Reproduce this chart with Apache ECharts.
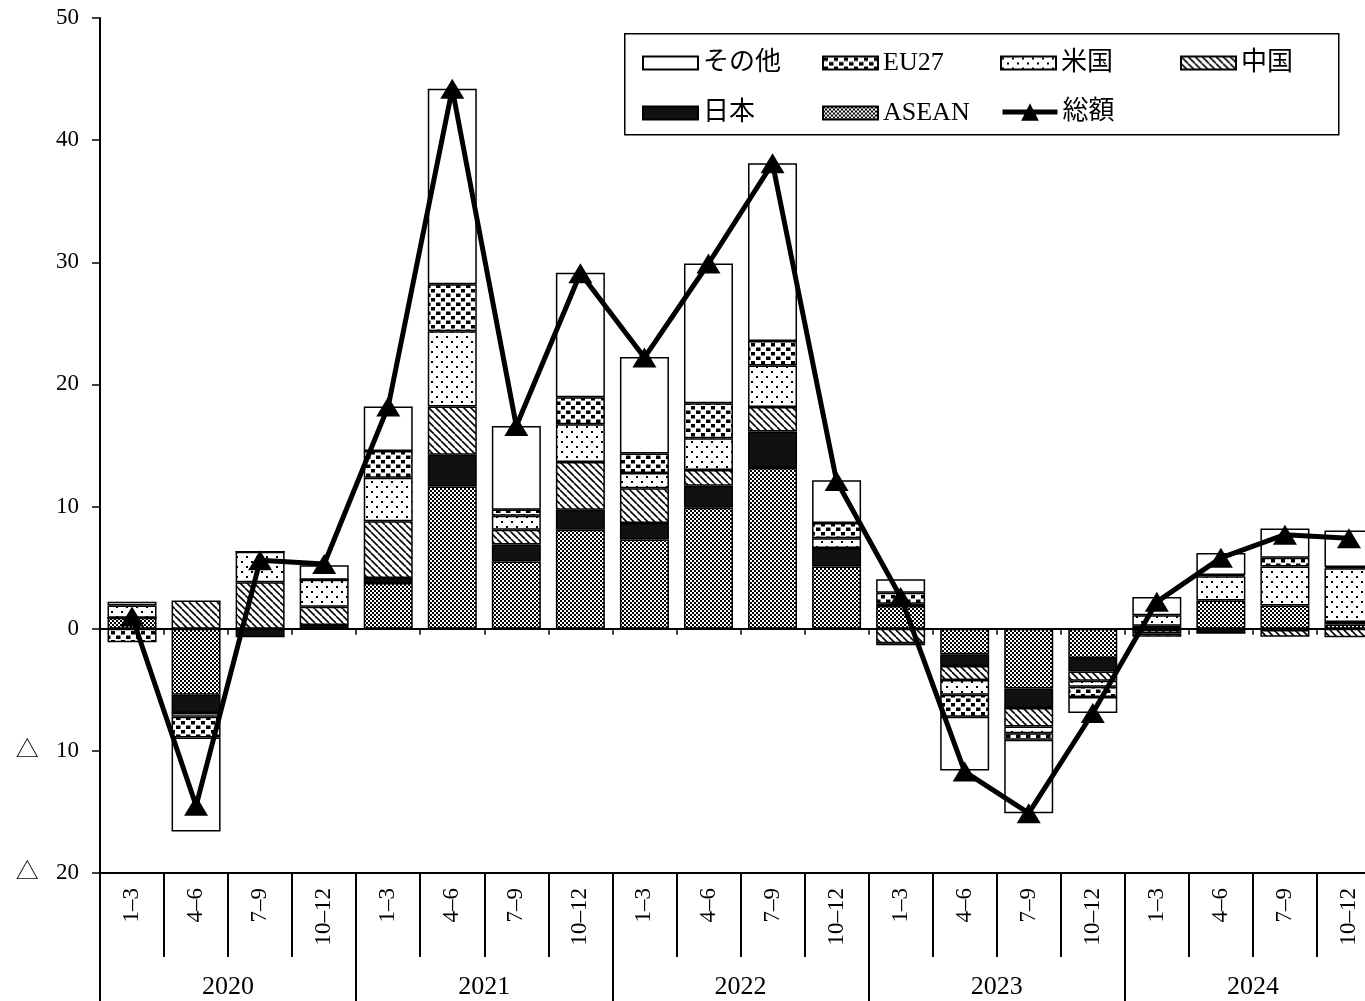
<!DOCTYPE html>
<html>
<head>
<meta charset="utf-8">
<script src="https://cdn.jsdelivr.net/npm/echarts@6/dist/echarts.min.js"></script>
<style>
html,body{margin:0;padding:0;background:#fff;}
#c{width:1365px;height:1001px;}
</style>
</head>
<body>
<div id="c"></div>
<script>
const quarters = ['1–3','4–6','7–9','10–12','1–3','4–6','7–9','10–12','1–3','4–6','7–9','10–12','1–3','4–6','7–9','10–12','1–3','4–6','7–9','10–12'];
const years = ['2020','2021','2022','2023','2024'];

const asean = [0.9, -5.4, 0, 0, 3.75, 11.65, 5.5, 8.1, 7.3, 9.9, 13.15, 5.1, 1.85, -2.1, -4.9, -2.4, 0.25, 2.3, 1.9, 0.35];
const japan = [0, -1.5, -0.7, 0.3, 0.4, 2.6, 1.4, 1.65, 1.35, 1.8, 3.0, 1.5, 0.2, -0.95, -1.6, -1.1, -0.1, -0.35, -0.1, 0.2];
const china = [0, 2.3, 3.8, 1.5, 4.65, 3.95, 1.2, 3.9, 2.85, 1.3, 2.0, 0, -1.2, -1.15, -1.5, -0.75, -0.3, 0, -0.55, -0.7];
const usa = [1.0, -0.3, 2.5, 2.2, 3.55, 6.15, 1.15, 3.1, 1.25, 2.6, 3.4, 0.8, -0.15, -1.2, -0.55, -0.5, 0.85, 2.0, 3.2, 4.4];
const eu27 = [-1.1, -1.7, 0, 0, 2.2, 3.85, 0.5, 2.2, 1.6, 2.85, 2.0, 1.25, 0.9, -1.8, -0.55, -0.85, -0.25, 0.1, 0.7, 0.1];
const other = [0.3, -7.7, 0, 1.2, 3.65, 16.0, 6.85, 10.2, 7.9, 11.45, 14.55, 3.5, 1.1, -4.4, -6.0, -1.3, 1.5, 1.8, 2.4, 3.0];
const total = [1.0, -14.5, 5.6, 5.3, 18.2, 44.2, 16.6, 29.1, 22.2, 29.9, 38.1, 12.1, 2.6, -11.7, -15.1, -6.9, 2.2, 5.8, 7.7, 7.4];

function makePattern(w, h, draw) {
  const c = document.createElement('canvas');
  c.width = w; c.height = h;
  const ctx = c.getContext('2d');
  ctx.fillStyle = '#fff';
  ctx.fillRect(0, 0, w, h);
  ctx.fillStyle = '#000';
  ctx.strokeStyle = '#000';
  draw(ctx);
  return { image: c, repeat: 'repeat' };
}
const patASEAN = makePattern(4, 4, ctx => { ctx.fillRect(0,0,2,2); ctx.fillRect(2,2,2,2); });
const patChina = makePattern(7, 7, ctx => {
  ctx.lineWidth = 1.6;
  for (const k of [-7, 0, 7]) { ctx.beginPath(); ctx.moveTo(k, 0); ctx.lineTo(k + 7, 7); ctx.stroke(); }
});
const patUSA = makePattern(10, 10, ctx => { ctx.fillRect(1,1,2,2); ctx.fillRect(6,6,2,2); });
const patEU = makePattern(10, 9, ctx => { ctx.fillRect(1,1,4,3.5); ctx.fillRect(6,5.5,4,3.5); ctx.fillRect(0,5.5,0.5,3.5); });

const FONT = "'Liberation Serif','Noto Sans CJK JP',serif";
const border = { borderColor: '#000', borderWidth: 1.5 };

function barSeries(name, data, color) {
  return {
    name, type: 'bar', stack: 'all', data, barWidth: 49,
    xAxisIndex: 0, yAxisIndex: 0,
    itemStyle: Object.assign({ color }, border),
    emphasis: { disabled: true }, z: 2
  };
}

const chart = echarts.init(document.getElementById('c'), null, { renderer: 'canvas' });

const legendCommon = {
  orient: 'vertical', itemWidth: 55, itemHeight: 13, itemGap: 24, icon: 'rect',
  textStyle: { fontFamily: FONT, fontSize: 26, color: '#000', lineHeight: 26 },
  selectedMode: false, z: 10
};

chart.setOption({
  backgroundColor: '#fff',
  animation: false,
  grid: { left: 100, right: -16, top: 18, bottom: 128, containLabel: false, outerBoundsMode: 'none' },
  graphic: [{
    type: 'rect', left: 624, top: 33, z: 5,
    shape: { width: 714, height: 101 },
    style: { fill: '#fff', stroke: '#000', lineWidth: 1.5 }
  }],
  legend: [
    Object.assign({}, legendCommon, { left: 637, top: 45, data: ['その他', '日本'] }),
    Object.assign({}, legendCommon, { left: 817, top: 45, data: ['EU27', 'ASEAN'] }),
    Object.assign({}, legendCommon, { left: 995, top: 45, data: ['米国'] }),
    Object.assign({}, legendCommon, { left: 1175, top: 45, data: ['中国'] }),
    Object.assign({}, legendCommon, { left: 995, top: 94, itemHeight: 22, icon: undefined, data: ['総額'], lineStyle: { width: 5 } })
  ],
  xAxis: [
    {
      type: 'category', data: quarters, position: 'bottom', gridIndex: 0,
      axisLine: { onZero: false, lineStyle: { color: '#000', width: 2 } },
      axisTick: { show: true, length: 84, interval: 0, lineStyle: { color: '#000', width: 2 } },
      axisLabel: { interval: 0, rotate: 90, margin: 15, fontFamily: FONT, fontSize: 23, color: '#000' },
      splitLine: { show: false }
    },
    {
      type: 'category', data: quarters, position: 'top', gridIndex: 0,
      axisLine: { onZero: true, lineStyle: { color: '#000', width: 2 } },
      axisTick: { show: true, inside: true, length: 6, interval: 0, lineStyle: { color: '#000', width: 1.5 } },
      axisLabel: { show: false },
      splitLine: { show: false }
    },
    {
      type: 'category', data: years, position: 'bottom', gridIndex: 0,
      axisLine: { show: false, onZero: false },
      axisTick: { show: true, length: 130, interval: 0, lineStyle: { color: '#000', width: 2 } },
      axisLabel: { interval: 0, margin: 101, fontFamily: FONT, fontSize: 26, color: '#000' },
      splitLine: { show: false }
    }
  ],
  yAxis: {
    type: 'value', min: -20, max: 50, interval: 10,
    axisLine: { show: true, onZero: false, lineStyle: { color: '#000', width: 2 } },
    axisTick: { show: true, length: 8, lineStyle: { color: '#000', width: 1.5 } },
    axisLabel: {
      margin: 21, fontFamily: FONT, fontSize: 23, color: '#000',
      formatter: v => v < 0 ? '△   ' + (-v) : String(v)
    },
    splitLine: { show: false }
  },
  series: [
    barSeries('ASEAN', asean, patASEAN),
    barSeries('日本', japan, '#111'),
    barSeries('中国', china, patChina),
    barSeries('米国', usa, patUSA),
    barSeries('EU27', eu27, patEU),
    barSeries('その他', other, '#fff'),
    {
      name: '総額', type: 'line', data: total, xAxisIndex: 0, yAxisIndex: 0,
      symbol: 'triangle', symbolSize: [24, 20],
      itemStyle: { color: '#000' },
      lineStyle: { color: '#000', width: 5 },
      emphasis: { disabled: true }, z: 6
    }
  ]
});
</script>
</body>
</html>
